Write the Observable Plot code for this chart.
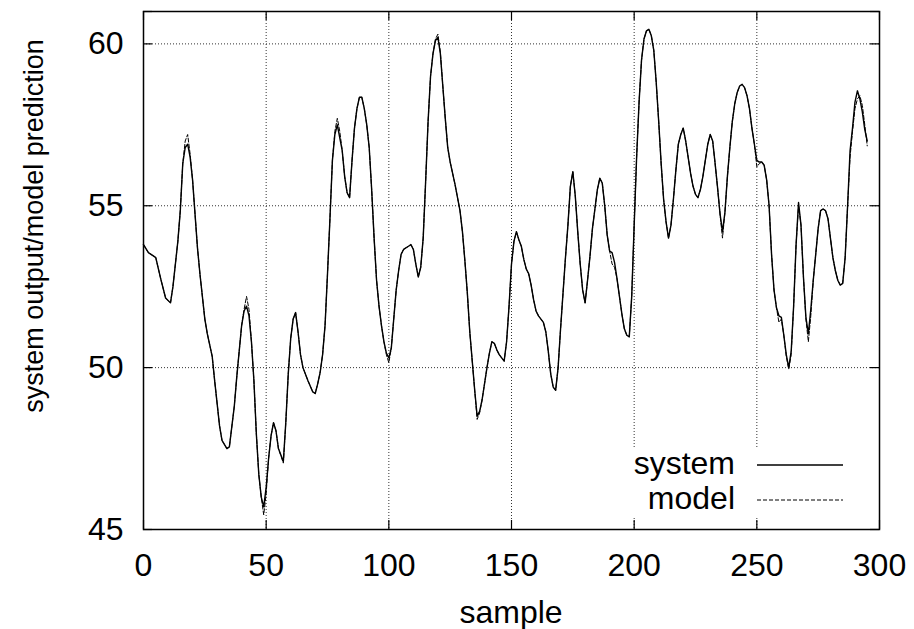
<!DOCTYPE html>
<html><head><meta charset="utf-8">
<script src="https://cdn.jsdelivr.net/npm/d3@7"></script>
<script src="https://cdn.jsdelivr.net/npm/@observablehq/plot@0.6"></script>
<style>html,body{margin:0;padding:0;background:#fff;} svg{display:block;}</style>
</head><body><div id="chart"></div>
<script>
const samples = [0,2,4,5,7,9,11,12,14,15,
16,17,18,19,20,22,23,25,26,28,
29,31,32,34,35,37,38,39,40,41,
42,43,44,45,46,47,48,49,50,51,
52,53,54,55,57,58,59,60,61,62,
63,64,65,67,69,70,71,72,73,74,
75,76,77,78,79,80,81,82,83,84,
85,86,87,88,89,90,91,92,93,94,
95,96,97,98,99,100,101,102,103,104,
105,106,108,109,110,111,112,
113,114,115,116,117,118,119,120,121,122,
123,124,125,126,127,128,129,130,131,132,
133,134,135,136,137,138,139,140,141,142,
143,144,145,146,147,148,149,150,151,152,
153,154,155,156,157,158,159,160,161,162,
163,164,165,166,167,168,169,170,171,172,
173,174,175,176,177,178,179,180,181,182,
183,184,185,186,187,188,189,190,191,192,
193,194,195,196,197,198,199,200,201,202,
203,204,205,206,207,208,209,210,211,212,
213,214,215,216,217,218,219,220,221,222,
223,224,225,226,227,228,229,230,231,232,
233,234,235,236,237,238,239,240,241,242,
243,244,245,246,247,248,249,250,251,252,
253,254,255,256,257,258,259,260,261,262,
263,264,265,266,267,268,269,270,271,272,
273,274,275,276,277,278,279,280,281,282,
283,284,285,286,287,288,289,290,291,292,
293,294,295];

const system = [53.8,53.55,53.45,53.4,52.75,52.15,52.0,52.5,53.9,54.85,
56.3,56.8,56.9,56.5,55.8,53.7,52.9,51.5,51.05,50.35,
49.6,48.2,47.75,47.5,47.55,48.8,49.7,50.5,51.3,51.75,
51.9,51.6,50.8,49.6,47.95,46.7,46.0,45.7,46.3,47.2,
47.9,48.3,48.05,47.5,47.1,48.3,49.8,50.9,51.5,51.7,
51.1,50.4,50.0,49.6,49.25,49.2,49.5,49.85,50.4,51.3,
52.9,54.6,56.4,57.2,57.5,57.1,56.7,55.9,55.4,55.25,
56.4,57.4,58.0,58.35,58.35,58.0,57.5,56.8,55.5,54.0,
52.7,51.9,51.3,50.8,50.45,50.3,50.6,51.5,52.4,53.0,
53.5,53.65,53.75,53.8,53.65,53.2,52.8,
53.1,54.0,55.75,57.6,59.0,59.7,60.1,60.2,59.7,58.7,
57.7,56.8,56.35,56.0,55.65,55.25,54.85,54.2,53.3,52.3,
51.1,50.2,49.3,48.5,48.65,49.0,49.5,50.0,50.45,50.8,
50.75,50.55,50.4,50.3,50.2,50.8,51.9,53.2,53.9,54.2,
53.95,53.75,53.35,53.05,52.9,52.55,52.1,51.75,51.6,51.5,
51.4,51.1,50.5,49.8,49.4,49.3,50.0,51.2,52.3,53.4,
54.4,55.6,56.05,55.3,54.2,53.2,52.4,52.0,52.7,53.45,
54.3,54.9,55.5,55.85,55.7,55.0,54.1,53.6,53.55,53.25,
52.75,52.2,51.65,51.2,51.0,50.95,52.2,54.4,56.5,58.2,
59.5,60.15,60.4,60.45,60.25,59.8,58.8,57.6,56.3,55.2,
54.5,54.0,54.4,55.2,56.1,56.9,57.2,57.4,57.0,56.5,
56.0,55.6,55.35,55.25,55.5,55.9,56.4,56.9,57.2,57.0,
56.3,55.55,54.75,54.2,54.8,55.9,56.8,57.6,58.15,58.5,
58.7,58.75,58.65,58.4,58.0,57.4,56.9,56.4,56.35,56.35,
56.25,55.8,55.0,53.5,52.4,51.85,51.6,51.55,51.0,50.4,
50.0,50.5,51.9,53.8,55.1,54.4,52.8,51.55,51.05,51.8,
52.7,53.5,54.3,54.85,54.9,54.85,54.6,54.0,53.4,53.0,
52.7,52.55,52.6,53.4,55.0,56.7,57.4,58.2,58.55,58.3,
57.9,57.35,57.0];

const model = [53.8,53.55,53.45,53.4,52.75,52.15,52.0,52.5,53.9,54.85,
56.3,57.0,57.2,56.6,55.8,53.7,52.9,51.5,51.05,50.35,
49.6,48.2,47.75,47.5,47.55,48.8,49.7,50.5,51.3,51.8,
52.2,51.8,50.8,49.6,47.95,46.7,46.0,45.45,46.1,47.2,
47.9,48.3,48.05,47.5,47.05,48.3,49.8,50.9,51.5,51.7,
51.1,50.4,50.0,49.6,49.25,49.2,49.5,49.85,50.4,51.3,
52.9,54.6,56.4,57.3,57.7,57.3,56.7,55.9,55.4,55.25,
56.4,57.4,58.0,58.35,58.35,58.0,57.5,56.8,55.5,54.0,
52.7,51.9,51.3,50.8,50.4,50.15,50.6,51.5,52.4,53.0,
53.5,53.65,53.75,53.8,53.65,53.2,52.8,
53.1,54.0,55.75,57.6,59.0,59.7,60.15,60.3,59.75,58.7,
57.7,56.8,56.35,56.0,55.65,55.25,54.85,54.2,53.3,52.3,
51.1,50.2,49.3,48.4,48.6,49.0,49.5,50.0,50.45,50.8,
50.75,50.55,50.4,50.3,50.2,50.8,51.9,53.2,53.9,54.2,
53.95,53.75,53.35,53.05,52.9,52.55,52.1,51.75,51.6,51.5,
51.4,51.1,50.5,49.8,49.4,49.3,50.0,51.2,52.3,53.4,
54.4,55.6,56.05,55.3,54.2,53.2,52.4,52.0,52.7,53.45,
54.3,54.9,55.5,55.85,55.7,55.0,54.1,53.6,53.2,53.1,
52.75,52.2,51.65,51.2,51.0,50.95,52.2,54.4,56.5,58.2,
59.5,60.15,60.4,60.45,60.25,59.8,58.8,57.6,56.3,55.2,
54.5,54.0,54.4,55.2,56.1,56.9,57.2,57.4,57.0,56.5,
56.0,55.6,55.35,55.25,55.5,55.9,56.4,56.9,57.2,57.0,
56.3,55.55,54.75,54.0,54.8,55.9,56.8,57.6,58.15,58.5,
58.7,58.75,58.65,58.4,58.0,57.4,56.9,56.2,56.3,56.35,
56.25,55.8,55.0,53.5,52.4,51.85,51.4,51.5,51.0,50.35,
49.95,50.4,51.9,53.8,55.0,54.4,52.8,51.5,50.8,51.6,
52.7,53.5,54.3,54.85,54.9,54.85,54.6,54.0,53.4,53.0,
52.7,52.55,52.6,53.4,55.0,56.5,57.3,58.0,58.3,58.4,
58.1,57.5,56.85];

const xTicks = [0, 50, 100, 150, 200, 250, 300];
const yTicks = [45, 50, 55, 60];
const seriesNames = ["system", "model"];
const xLabel = "sample";
const yLabel = "system output/model prediction";

const systemData = samples.map((s, i) => ({sample: s, value: system[i]}));
const modelData = samples.map((s, i) => ({sample: s, value: model[i]}));

const W = 914, H = 629, mL = 143, mR = 35, mT = 11, mB = 100;
const ph = H - mT - mB, pw = W - mL - mR;
const font = "'Liberation Sans', Arial, Helvetica, sans-serif";
const gridStyle = {stroke: "#333", strokeWidth: 1, strokeDasharray: "1,2"};
const tickStyle = {stroke: "#000", strokeWidth: 1.2};

const chart = Plot.plot({
  width: W, height: H,
  marginLeft: mL, marginRight: mR, marginTop: mT, marginBottom: mB,
  style: {fontFamily: font, fontSize: "32px", background: "#fff", color: "#000"},
  x: {domain: [0, 300]},
  y: {domain: [45, 61]},
  marks: [
    Plot.ruleX(xTicks.slice(1, -1), {x: d => d, ...gridStyle}),
    Plot.ruleY(yTicks.slice(1), {y: d => d, ...gridStyle}),
    Plot.tickX(xTicks, {x: d => d, insetTop: ph - 9, ...tickStyle}),
    Plot.tickX(xTicks, {x: d => d, insetBottom: ph - 9, ...tickStyle}),
    Plot.tickY(yTicks.concat([61]), {y: d => d, insetRight: pw - 9, ...tickStyle}),
    Plot.tickY(yTicks.concat([61]), {y: d => d, insetLeft: pw - 9, ...tickStyle}),
    Plot.axisX(xTicks, {tickSize: 0, tickPadding: 24, fontSize: 32, label: null}),
    Plot.axisY(yTicks, {tickSize: 0, tickPadding: 20, fontSize: 32, label: null}),
    Plot.lineY(modelData, {x: "sample", y: "value", stroke: "#000", strokeWidth: 1, strokeDasharray: "4,2"}),
    Plot.lineY(systemData, {x: "sample", y: "value", stroke: "#000", strokeWidth: 1.4}),
    Plot.frame({stroke: "#000", strokeWidth: 1.5})
  ]
});

document.getElementById("chart").appendChild(chart);

const svg = d3.select(chart);
// axis labels
svg.append("text").attr("x", mL + pw / 2).attr("y", 623)
  .attr("text-anchor", "middle").attr("font-family", font).attr("font-size", 32)
  .attr("fill", "#000").text(xLabel);
svg.append("text").attr("transform", "translate(43,226) rotate(-90)")
  .attr("text-anchor", "middle").attr("font-family", font).attr("font-size", 27)
  .attr("fill", "#000").text(yLabel);

// legend (inside, bottom right)
const lg = svg.append("g");
lg.append("rect").attr("x", 626).attr("y", 447).attr("width", 226).attr("height", 70).attr("fill", "#fff");
const rows = [{y: 465, dash: null, w: 1.4}, {y: 500, dash: "4,2", w: 1}];
seriesNames.forEach((name, i) => {
  const r = rows[i];
  lg.append("text").attr("x", 735).attr("y", r.y + 9).attr("text-anchor", "end")
    .attr("font-family", font).attr("font-size", 32).attr("fill", "#000").text(name);
  const ln = lg.append("line").attr("x1", 757).attr("x2", 843).attr("y1", r.y).attr("y2", r.y)
    .attr("stroke", "#000").attr("stroke-width", r.w);
  if (r.dash) ln.attr("stroke-dasharray", r.dash);
});
</script>
</body></html>
